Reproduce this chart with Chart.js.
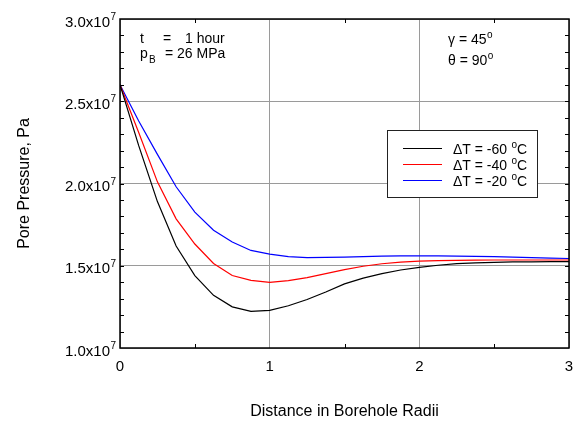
<!DOCTYPE html>
<html>
<head>
<meta charset="utf-8">
<script src="https://cdn.jsdelivr.net/npm/chart.js@4/dist/chart.umd.min.js"></script>
<style>
  body { margin: 0; background: #fff; }
  #wrap { width: 577px; height: 423px; }
</style>
</head>
<body>
<div id="wrap"><canvas id="chart" width="577" height="423"></canvas></div>
<script>
// distance from borehole wall (in borehole radii)
const distance = [0, 0.125, 0.25, 0.375, 0.5, 0.625, 0.75, 0.875, 1, 1.125, 1.25, 1.375, 1.5,
    1.625, 1.75, 1.875, 2, 2.125, 2.25, 2.375, 2.5, 2.625, 2.75, 2.875, 3];

// pore pressure (Pa) for each temperature difference
const dT60 = [2.60e7, 2.23e7, 1.89e7, 1.62e7, 1.44e7, 1.32e7, 1.25e7, 1.223e7, 1.229e7, 1.257e7, 1.295e7, 1.34e7, 1.39e7,
    1.425e7, 1.452e7, 1.474e7, 1.49e7, 1.503e7, 1.513e7, 1.518e7, 1.521e7, 1.523e7, 1.524e7, 1.525e7, 1.525e7];
const dT40 = [2.60e7, 2.31e7, 2.01e7, 1.785e7, 1.632e7, 1.514e7, 1.441e7, 1.411e7, 1.399e7, 1.41e7, 1.428e7, 1.452e7, 1.476e7,
    1.497e7, 1.512e7, 1.522e7, 1.528e7, 1.531e7, 1.533e7, 1.534e7, 1.535e7, 1.535e7, 1.535e7, 1.535e7, 1.535e7];
const dT20 = [2.60e7, 2.38e7, 2.177e7, 1.98e7, 1.826e7, 1.716e7, 1.644e7, 1.593e7, 1.571e7, 1.556e7, 1.55e7, 1.551e7, 1.553e7,
    1.556e7, 1.558e7, 1.56e7, 1.56e7, 1.56e7, 1.559e7, 1.557e7, 1.555e7, 1.552e7, 1.549e7, 1.546e7, 1.544e7];

const seriesLabels = ['ΔT = -60 °C', 'ΔT = -40 °C', 'ΔT = -20 °C'];
const seriesColors = ['#000000', '#ff0000', '#0000ff'];

// y axis ticks and their labels (exponent drawn as superscript)
const yTicks = [1.0e7, 1.5e7, 2.0e7, 2.5e7, 3.0e7];
const yTickLabels = ['1.0x10', '1.5x10', '2.0x10', '2.5x10', '3.0x10'];
const yTickExp = '7';

const FONT = '"Liberation Sans", Arial, Helvetica, sans-serif';

function pts(ys) {
    return distance.map((d, i) => ({ x: d, y: ys[i] }));
}

// text with a small raised part, e.g. 45° or x10^7
function drawSup(ctx, x, y, main, sup, size, after) {
    ctx.font = size + 'px ' + FONT;
    ctx.textAlign = 'left';
    ctx.fillText(main, x, y);
    let cx = x + ctx.measureText(main).width;
    ctx.font = Math.round(size * 0.68) + 'px ' + FONT;
    ctx.fillText(sup, cx + 0.5, y - size * 0.42);
    cx += ctx.measureText(sup).width + 0.5;
    if (after) {
        ctx.font = size + 'px ' + FONT;
        ctx.fillText(after, cx, y);
    }
}

const extras = {
    id: 'extras',
    afterDraw(chart) {
        const { ctx, chartArea: a, scales: { x, y } } = chart;
        ctx.save();

        // minor ticks
        ctx.strokeStyle = '#000';
        ctx.lineWidth = 1;
        ctx.beginPath();
        for (let v = 1.1e7; v < 3.0e7; v += 1e6) {
            const py = Math.round(y.getPixelForValue(v)) + 0.5;
            ctx.moveTo(a.left, py); ctx.lineTo(a.left + 4, py);
            ctx.moveTo(a.right, py); ctx.lineTo(a.right - 4, py);
        }
        [0.5, 1.5, 2.5].forEach(v => {
            const px = Math.round(x.getPixelForValue(v)) + 0.5;
            ctx.moveTo(px, a.bottom); ctx.lineTo(px, a.bottom - 4);
            ctx.moveTo(px, a.top); ctx.lineTo(px, a.top + 4);
        });
        ctx.stroke();

        // frame
        ctx.lineWidth = 1.5;
        ctx.strokeRect(a.left, a.top, a.right - a.left, a.bottom - a.top);

        // y tick labels
        ctx.fillStyle = '#000';
        ctx.textBaseline = 'alphabetic';
        yTicks.forEach((v, i) => {
            const py = y.getPixelForValue(v);
            ctx.font = '15px ' + FONT;
            const w = ctx.measureText(yTickLabels[i]).width;
            drawSup(ctx, 110 - w, py + 7.5, yTickLabels[i], yTickExp, 15);
        });

        // annotations
        ctx.font = '14px ' + FONT;
        ctx.textAlign = 'left';
        ctx.fillText('t', 140, 43);
        ctx.fillText('=', 163, 43);
        ctx.fillText('1 hour', 185, 43);
        ctx.fillText('p', 140, 58);
        ctx.font = '10px ' + FONT;
        ctx.fillText('B', 149, 63);
        ctx.font = '14px ' + FONT;
        ctx.fillText('= 26 MPa', 165, 58);
        drawSup(ctx, 448, 44, 'γ = 45', 'o', 14);
        drawSup(ctx, 448, 65, 'θ = 90', 'o', 14);

        // legend
        const lx = 387, ly = 130, lw = 150, lh = 67;
        ctx.fillStyle = '#fff';
        ctx.fillRect(lx, ly, lw, lh);
        ctx.strokeStyle = '#222';
        ctx.lineWidth = 1;
        ctx.strokeRect(lx + 0.5, ly + 0.5, lw, lh);
        chart.data.datasets.forEach((ds, i) => {
            const ry = 148.5 + i * 16;
            ctx.strokeStyle = ds.borderColor;
            ctx.lineWidth = 1.2;
            ctx.beginPath();
            ctx.moveTo(403, ry); ctx.lineTo(442, ry);
            ctx.stroke();
            ctx.fillStyle = '#000';
            const parts = ds.label.split('°');
            drawSup(ctx, 453, ry + 5, parts[0], 'o', 14, parts[1]);
        });

        ctx.restore();
    }
};

new Chart(document.getElementById('chart'), {
    type: 'line',
    data: {
        datasets: [dT60, dT40, dT20].map((s, i) => ({
            label: seriesLabels[i],
            data: pts(s),
            borderColor: seriesColors[i],
            borderWidth: 1.2,
            pointRadius: 0,
            tension: 0,
            fill: false
        }))
    },
    options: {
        responsive: false,
        animation: false,
        devicePixelRatio: 1,
        layout: { padding: { top: 19, right: 8, left: 0, bottom: 0 } },
        plugins: { legend: { display: false }, tooltip: { enabled: false } },
        scales: {
            x: {
                type: 'linear',
                min: 0, max: 3,
                afterFit: s => { s.height = 75; s.paddingLeft = 0; s.paddingRight = 0; },
                ticks: { stepSize: 1, color: '#000', font: { family: FONT, size: 15 }, padding: 10 },
                grid: { color: '#9a9a9a', lineWidth: 1, drawTicks: false },
                border: { display: false },
                title: { display: true, text: 'Distance in Borehole Radii', color: '#000',
                    font: { family: FONT, size: 16 }, padding: { bottom: 2, top: 0 } }
            },
            y: {
                type: 'linear',
                min: 1e7, max: 3e7,
                afterFit: s => { s.width = 120; s.paddingTop = 0; s.paddingBottom = 0; },
                afterBuildTicks: s => { s.ticks = yTicks.map(v => ({ value: v })); },
                ticks: { display: false },
                grid: { color: '#9a9a9a', lineWidth: 1, drawTicks: false },
                border: { display: false },
                title: { display: true, text: 'Pore Pressure, Pa', color: '#000',
                    font: { family: FONT, size: 16 }, padding: { top: 15, bottom: 0 } }
            }
        }
    },
    plugins: [extras]
});
</script>
</body>
</html>
